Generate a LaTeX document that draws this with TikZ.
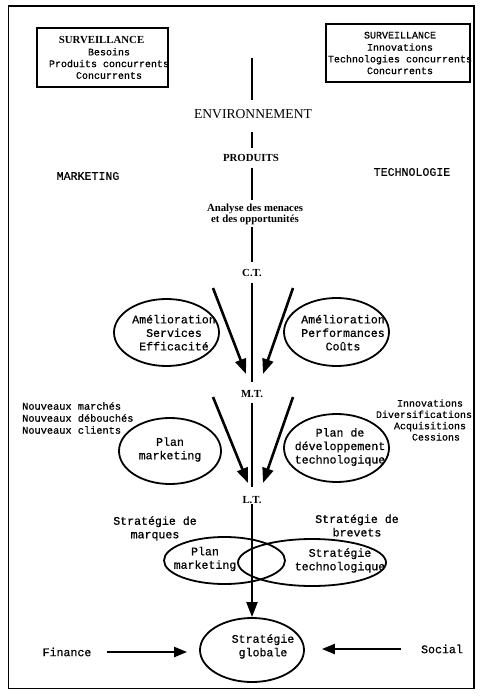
\documentclass[tikz,border=0pt]{standalone}
\usepackage{fontspec}
\setmainfont{Liberation Serif}
\setmonofont{Liberation Mono}[FakeBold=0.6]
\usetikzlibrary{arrows.meta,shapes.geometric}
\begin{document}
\begin{tikzpicture}[x=1pt,y=-1pt,
  mono/.style={font=\ttfamily\fontsize{10}{11.7}\selectfont, align=center, inner sep=0pt},
  monomid/.style={font=\ttfamily\fontsize{10.3}{12}\selectfont, inner sep=0pt},
  monobig/.style={font=\ttfamily\fontsize{11.6}{13.5}\selectfont, align=center, inner sep=0pt},
  serifb/.style={font=\bfseries\fontsize{10.8}{11.5}\selectfont, align=center, inner sep=0pt},
  oval/.style={draw, ellipse, line width=1.8pt, inner sep=0pt},
  vline/.style={line width=1.8pt},
  bigarrow/.style={line width=2.6pt, -{Triangle[length=15pt,width=11pt]}},
  sidearrow/.style={line width=2.2pt, -{Triangle[length=13pt,width=10pt]}},
  survbox/.style={draw, line width=2.6pt, inner sep=0pt}
]
\useasboundingbox (0,0) rectangle (486,700);
\draw[line width=1.5pt] (8.5,6) rectangle (474,688.5);

% surveillance boxes
\node[survbox, minimum width=131pt, minimum height=59pt] (lbox) at (102.5,57.5) {};
\node[serifb] (lsurv) at (101.5,40) {SURVEILLANCE};
\node[mono] (ltext) at (109,63.5) {Besoins\\Produits concurrents\\Concurrents};
\node[survbox, minimum width=144pt, minimum height=58pt] (rbox) at (398,53) {};
\node[mono] (rtext) at (400,53) {SURVEILLANCE\\[0.5pt]Innovations\\Technologies concurrents\\Concurrents};

% central axis
\coordinate (v0) at (252,58);
\coordinate (v1) at (252,100);
\node[font=\fontsize{13.6}{15}\selectfont, inner sep=0pt] (env) at (253,114) {ENVIRONNEMENT};
\coordinate (v2) at (252,132);
\coordinate (v3) at (252,148);
\node[serifb] (prod) at (251,158) {PRODUITS};
\coordinate (v4) at (252,168);
\coordinate (v5) at (252,200);
\node[font=\bfseries\fontsize{10.8}{11.5}\selectfont, align=center, inner sep=0pt] (anal) at (255,214.5) {Analyse des menaces\\et des opportunités};
\coordinate (v6) at (252,227);
\coordinate (v7) at (252,262);
\node[serifb] (ct) at (252,273) {C.T.};
\coordinate (v8) at (252,283);
\coordinate (v9) at (252,382);
\node[serifb] (mt) at (252,394) {M.T.};
\coordinate (v10) at (252,403);
\coordinate (v11) at (252,487);
\node[serifb] (lt) at (252,500) {L.T.};

\draw[vline] (v0) -- (v1);
\draw[vline] (v2) -- (v3);
\draw[vline] (v4) -- (v5);
\draw[vline] (v6) -- (v7);
\draw[vline] (v8) -- (v9);
\draw[vline] (v10) -- (v11);

% side labels
\node[monobig] (mkt) at (88,176) {MARKETING};
\node[monobig] (tech) at (412,172) {TECHNOLOGIE};

% short term ellipses
\node[oval, minimum width=105pt, minimum height=67pt] (e1) at (166.5,332.5) {};
\node[monobig] (e1t) at (174,332.7) {Amélioration\\Services\\Efficacité};
\node[oval, minimum width=105pt, minimum height=68pt] (e2) at (336.5,332) {};
\node[monobig] (e2t) at (343,332.7) {Amélioration\\Performances\\Coûts};

% arrows C.T. -> M.T.
\coordinate (a1s) at (213,288);
\coordinate (a1e) at (246,374);
\coordinate (a2s) at (293,288);
\coordinate (a2e) at (263,374);
\draw[bigarrow] (a1s) -- (a1e);
\draw[bigarrow] (a2s) -- (a2e);

% middle term
\node[monomid, anchor=west, align=left] (nouv) at (22,418) {Nouveaux marchés\\Nouveaux débouchés\\Nouveaux clients};
\node[mono, font=\ttfamily\fontsize{10}{11.3}\selectfont] (innov) at (424,420) {\hspace*{12pt}Innovations\\Diversifications\\\hspace*{12pt}Acquisitions\\\hspace*{24pt}Cessions};
\node[oval, minimum width=102pt, minimum height=66pt] (e3) at (170,451) {};
\node[monobig] (e3t) at (170,449.5) {Plan\\marketing};
\node[oval, minimum width=105pt, minimum height=68pt] (e4) at (336.5,448) {};
\node[monobig] (e4t) at (340,447) {Plan de\\développement\\technologique};

% arrows M.T. -> L.T.
\coordinate (a3s) at (213,397);
\coordinate (a3e) at (248,483);
\coordinate (a4s) at (293,397);
\coordinate (a4e) at (263,483);
\draw[bigarrow] (a3s) -- (a3e);
\draw[bigarrow] (a4s) -- (a4e);

% long term
\node[monobig] (smarq) at (155,528.5) {Stratégie de\\marques};
\node[monobig] (sbrev) at (357,525.5) {Stratégie de\\brevets};
\node[oval, minimum width=121pt, minimum height=47pt] (e5) at (224.5,560.5) {};
\node[monobig] (e5t) at (205,559) {Plan\\marketing};
\node[oval, minimum width=148pt, minimum height=47pt] (e6) at (312,562.5) {};
\node[monobig] (e6t) at (340,560.5) {Stratégie\\technologique};

% global strategy
\node[oval, minimum width=104pt, minimum height=64pt] (glob) at (252,650) {};
\node[monobig] (globt) at (263,646.5) {Stratégie\\globale};
\draw[bigarrow, line width=2.2pt] (lt) -- (glob);

\node[monobig] (fin) at (67,652) {Finance};
\node[monobig] (soc) at (442,649) {Social};
\draw[sidearrow, shorten <=15pt, shorten >=12pt] (fin.east) -- (fin.east -| glob.west);
\draw[sidearrow, shorten <=20pt, shorten >=17pt] (soc.west) -- (soc.west -| glob.east);
\end{tikzpicture}
\end{document}
